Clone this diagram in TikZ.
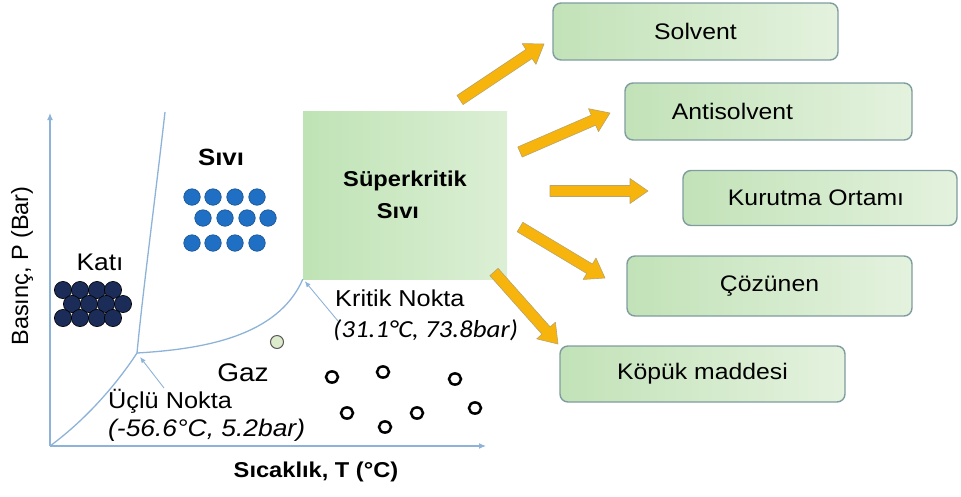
\documentclass[tikz,border=0pt]{standalone}
\usepackage{fontspec}
\setmainfont{Liberation Sans}[FakeStretch=1.1]
\newfontfamily\plainsans{Liberation Sans}
\newfontfamily\calib{Carlito}[FakeStretch=1.1]
\usetikzlibrary{calc,arrows.meta}
\definecolor{axisblue}{HTML}{8DB3D9}
\definecolor{boxL}{HTML}{C2E2B8}
\definecolor{boxR}{HTML}{E4F2DE}
\definecolor{boxedge}{HTML}{7F9CA0}
\definecolor{scL}{HTML}{BFE3B5}
\definecolor{scR}{HTML}{DCEFD5}
\definecolor{gold}{HTML}{F6B40C}
\definecolor{goldedge}{HTML}{B9A46A}
\definecolor{liqblue}{HTML}{1F6FC5}
\definecolor{navy}{HTML}{1C2C58}
\definecolor{palegreen}{HTML}{DDEBCD}
\newcommand\fatarr[2]{%
  \coordinate (hb) at ($(#2)!18pt!(#1)$);
  \filldraw[fatarrow] ($(#1)!5.5pt!90:(#2)$) -- ($(hb)!5.5pt!-90:(#1)$) -- ($(hb)!12.5pt!-90:(#1)$) -- (#2)
    -- ($(hb)!12.5pt!90:(#1)$) -- ($(hb)!5.5pt!90:(#1)$) -- ($(#1)!5.5pt!-90:(#2)$) -- cycle;}
\begin{document}
\begin{tikzpicture}[x=1pt,y=-1pt,
  axis/.style={draw=axisblue,line width=1.2pt},
  phase/.style={draw=axisblue,line width=1.3pt},
  appbox/.style={draw=boxedge,line width=1.4pt,rounded corners=8pt,left color=boxL,right color=boxR,
     minimum height=57pt,font=\fontsize{22.5}{26}\selectfont},
  lbl/.style={font=\fontsize{23}{26}\selectfont,inner sep=0pt},
  fatarrow/.style={fill=gold,draw=goldedge,line width=0.6pt,line join=round},
  liq/.style={fill=liqblue,draw=liqblue!70!black,line width=0.5pt},
  sol/.style={fill=navy,draw=black,line width=0.6pt},
  gas/.style={draw=black,line width=2.5pt}]
\useasboundingbox (0,0) rectangle (961,496);
% axes
\coordinate (O) at (50,446);
\coordinate (ytop) at (50,113);
\coordinate (xend) at (486,446);
\draw[axis,-{Latex[length=7pt,width=6pt]}] (O) -- (ytop);
\draw[axis,-{Latex[length=7pt,width=6pt]}] (O) -- (xend);
\node[font=\plainsans\fontsize{23.5}{24}\selectfont,rotate=90] (ylab) at (22,266) {Basınç, P (Bar)};
\node[font=\bfseries\fontsize{21.5}{24}\selectfont] (xlab) at (316,472) {Sıcaklık, T (°C)};
% supercritical region
\node[left color=scL,right color=scR,minimum width=204pt,minimum height=168pt,inner sep=0pt,
  align=center,font=\bfseries\fontsize{21.5}{32}\selectfont] (sc) at (405,195) {Süperkritik\\\hspace*{-14pt}Sıvı};
% phase lines
\coordinate (tp) at (137,353);
\coordinate (cp) at (sc.south west);
\coordinate (slt) at (165,112);
\draw[phase] (O) .. controls (88,418) and (118,382) .. (tp);
\draw[phase] (tp) .. controls (143,290) and (155,200) .. (slt);
\draw[phase] (tp) .. controls (205,349) and (278,336) .. (cp);
\coordinate (tpl) at (164,388);
\coordinate (cpl) at (338,321);
\draw[phase,line width=0.9pt,-{Latex[length=6pt,width=5pt]}] (tpl) -- ($(tp)+(3,4)$);
\draw[phase,line width=0.9pt,-{Latex[length=6pt,width=5pt]}] (cpl) -- ($(cp)+(2,2)$);
% labels
\node[font=\bfseries\fontsize{23.5}{26}\selectfont] (liqlab) at (221,157) {Sıvı};
\node[lbl,font=\fontsize{24}{26}\selectfont] (katlab) at (100,262) {Katı};
\node[lbl,font=\fontsize{25.5}{28}\selectfont] (gazlab) at (243,373) {Gaz};
\node[lbl,anchor=west] (tplab) at (108,401) {Üçlü Nokta};
\node[lbl,anchor=west,font=\itshape\fontsize{24}{26}\selectfont] (tpval) at (108,430) {(-56.6°C, 5.2bar)};
\node[lbl,anchor=west] (cplab) at (335,298) {Kritik Nokta};
\node[lbl,anchor=west,font=\calib\itshape\fontsize{24.5}{28}\selectfont] (cpval) at (333,330) {(31.1°C, 73.8bar)};
% liquid molecules
\foreach \x in {192,213,235,257} {\filldraw[liq] (\x,197) circle (8.3pt); \filldraw[liq] (\x,243) circle (8.3pt);}
\foreach \x in {203,225,247,268} {\filldraw[liq] (\x,218) circle (8.3pt);}
% solid molecules
\foreach \x in {63,80,97,113} {\filldraw[sol] (\x,290) circle (8.6pt);}
\foreach \x in {72,89,106,123} {\filldraw[sol] (\x,304) circle (8.6pt);}
\foreach \x in {63,80,97,113} {\filldraw[sol] (\x,318) circle (8.6pt);}
% critical-ish particle
\filldraw[fill=palegreen,draw=gray!70!black,line width=1pt] (277,342) circle (6.5pt);
% gas molecules
\foreach \p in {(332,377),(383,372),(455,379),(347,413),(385,427),(417,413),(475,408)}
  {\draw[gas] \p ellipse (6pt and 5.6pt);}
% application boxes
\node[appbox,minimum width=285pt] (solv) at (695.5,31.5) {Solvent};
\node[appbox,minimum width=287pt] (anti) at (768.5,111.5) {};
\node[font=\fontsize{22.5}{26}\selectfont] (antitxt) at ([xshift=-36pt]anti.center) {Antisolvent};
\node[appbox,minimum width=274pt,minimum height=55pt] (kuru) at (820,198) {};
\node[font=\fontsize{22.5}{26}\selectfont] (kurutxt) at ([xshift=-4pt]kuru.center) {Kurutma Ortamı};
\node[appbox,minimum width=285pt,minimum height=60pt] (cozu) at (769.5,286) {Çözünen};
\node[appbox,minimum width=285pt,minimum height=56pt] (kopu) at (702.5,374) {Köpük maddesi};
% arrows
\coordinate (a1t) at (460,100); \coordinate (a1h) at (544,44);
\coordinate (a2t) at (520,152); \coordinate (a2h) at (610,113);
\coordinate (a3t) at (550,191); \coordinate (a3h) at (648,191);
\coordinate (a4t) at (520,227); \coordinate (a4h) at (605,278);
\coordinate (a5t) at (494,272); \coordinate (a5h) at (558,344);
\fatarr{a1t}{a1h}
\fatarr{a2t}{a2h}
\fatarr{a3t}{a3h}
\fatarr{a4t}{a4h}
\fatarr{a5t}{a5h}
\end{tikzpicture}
\end{document}
